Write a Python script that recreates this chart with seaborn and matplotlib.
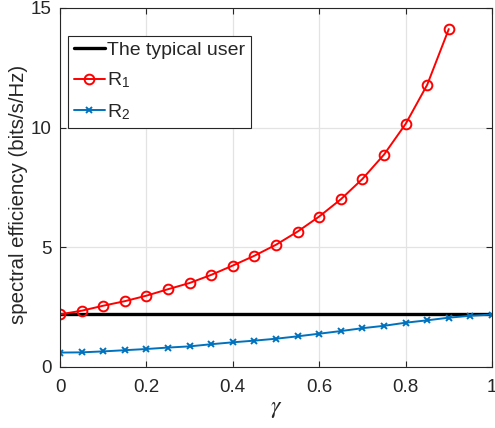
import numpy as np
import pandas as pd
import matplotlib
matplotlib.use("Agg")
import matplotlib.pyplot as plt
import seaborn as sns

# Power-split factor and the resulting rates (bits/s/Hz)
gamma = [0.00, 0.05, 0.10, 0.15, 0.20, 0.25, 0.30, 0.35, 0.40, 0.45,
         0.50, 0.55, 0.60, 0.65, 0.70, 0.75, 0.80, 0.85, 0.90, 0.95, 1.00]
typical_user = [2.19] * len(gamma)
r1_gamma = gamma[:19]
r1 = [2.19, 2.34, 2.55, 2.74, 2.97, 3.24, 3.50, 3.84, 4.23, 4.64,
      5.10, 5.65, 6.28, 7.00, 7.85, 8.87, 10.15, 11.79, 14.12]
r2 = [0.59, 0.60, 0.64, 0.69, 0.74, 0.80, 0.85, 0.94, 1.02, 1.09,
      1.17, 1.27, 1.38, 1.49, 1.61, 1.71, 1.84, 1.94, 2.05, 2.13, 2.18]

x_ticks = [0, 0.2, 0.4, 0.6, 0.8, 1]
x_tick_labels = ["0", "0.2", "0.4", "0.6", "0.8", "1"]
y_ticks = [0, 5, 10, 15]

sns.set_theme(style="ticks")
plt.rcParams["font.family"] = ["Liberation Sans", "DejaVu Sans"]
plt.rcParams["mathtext.fontset"] = "stix"

dark = "#262626"
fig = plt.figure(figsize=(4.95, 4.28), dpi=100)
ax = fig.add_axes([60 / 495, (428 - 366.7) / 428, 432 / 495, 358.7 / 428])

df_typ = pd.DataFrame({"gamma": gamma, "rate": typical_user})
df_r1 = pd.DataFrame({"gamma": r1_gamma, "rate": r1})
df_r2 = pd.DataFrame({"gamma": gamma, "rate": r2})

sns.lineplot(data=df_typ, x="gamma", y="rate", ax=ax, color="black",
             linewidth=2.4, label="The typical user")
sns.lineplot(data=df_r1, x="gamma", y="rate", ax=ax, color="#FF0000",
             linewidth=1.4, marker="o", markersize=7, markerfacecolor="none",
             markeredgecolor="#FF0000", markeredgewidth=1.4,
             label=r"R$_{\mathregular{1}}$")
sns.lineplot(data=df_r2, x="gamma", y="rate", ax=ax, color="#0072BD",
             linewidth=1.4, marker="x", markersize=4.5,
             markeredgecolor="#0072BD", markeredgewidth=1.4,
             label=r"R$_{\mathregular{2}}$")

ax.set_xlim(0, 1)
ax.set_ylim(0, 15)
ax.set_xticks(x_ticks)
ax.set_xticklabels(x_tick_labels)
ax.set_yticks(y_ticks)
ax.grid(True, color="#e3e3e3", linewidth=0.9)
ax.set_axisbelow(True)
for side in ["top", "right", "bottom", "left"]:
    ax.spines[side].set_visible(True)
    ax.spines[side].set_color(dark)
    ax.spines[side].set_linewidth(0.8)
ax.tick_params(direction="in", length=4, width=0.8, colors=dark,
               labelsize=13.5, top=True, right=True)
ax.tick_params(axis="x", pad=9)
ax.tick_params(axis="y", pad=6)
ax.set_xlabel(r"$\gamma$", fontsize=17, color=dark, labelpad=1)
ax.set_ylabel("spectral efficiency (bits/s/Hz)", fontsize=14.7, color=dark)
ax.yaxis.set_label_coords(-0.074, 0.48)

leg = ax.legend(loc="upper left", bbox_to_anchor=(0.0, 0.945), fontsize=14,
                frameon=True, fancybox=False, edgecolor=dark, framealpha=1,
                handlelength=1.6, handletextpad=0.12, borderpad=0.3,
                labelspacing=0.6, borderaxespad=0.4)
leg.get_frame().set_linewidth(0.8)

fig.savefig("out.png", dpi=100)
